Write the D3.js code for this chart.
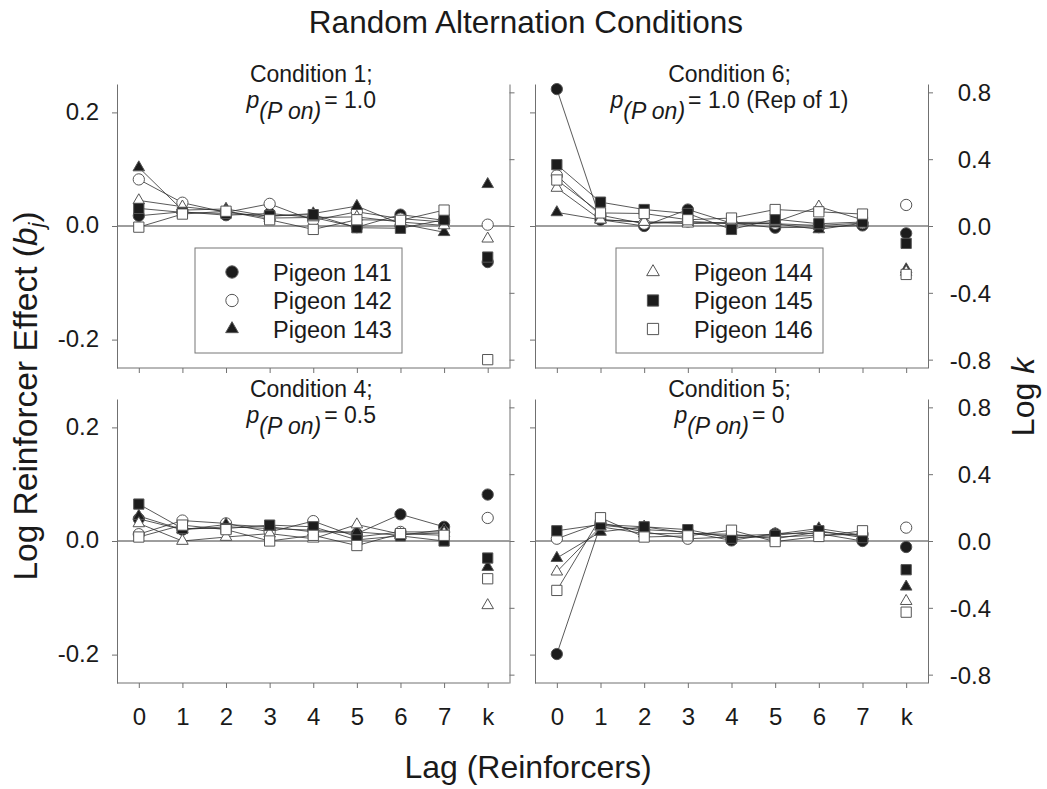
<!DOCTYPE html>
<html><head><meta charset="utf-8">
<script src="https://cdn.jsdelivr.net/npm/d3@7"></script>
<style>
body{margin:0;background:#fff;}
svg{display:block;}
text{font-family:"Liberation Sans", Arial, Helvetica, sans-serif;}
</style></head><body>
<svg id="chart" width="1047" height="789"></svg>
<script>
// ---------- data ----------
const lagLabels = ["0","1","2","3","4","5","6","7","k"];
const pigeons = ["Pigeon 141","Pigeon 142","Pigeon 143","Pigeon 144","Pigeon 145","Pigeon 146"];
const symbolShapes = ["circle","circle","triangle","triangle","square","square"];
const symbolFilled = [true,false,true,false,true,false];
const bjTicks = [-0.2, 0, 0.2];
const logkTicks = [-0.8, -0.4, 0, 0.4, 0.8];
const conditionNames = ["Condition 1;", "Condition 6;", "Condition 4;", "Condition 5;"];
const conditionP = ["= 1.0", "= 1.0 (Rep of 1)", "= 0.5", "= 0"];

// bj for lags 0..7, one row per pigeon (141..146)
const cond1Bj = [
  [0.018, 0.025, 0.019, 0.022, 0.015, -0.002, 0.020, 0.010],
  [0.082, 0.041, 0.024, 0.039, 0.010, 0.025, 0.013, 0.007],
  [0.103, 0.028, 0.030, 0.017, 0.022, 0.035, 0.004, -0.011],
  [0.045, 0.034, 0.026, 0.014, 0.015, 0.016, 0.007, 0.001],
  [0.031, 0.024, 0.022, 0.018, 0.020, -0.003, -0.004, 0.011],
  [-0.002, 0.021, 0.026, 0.011, -0.006, 0.011, 0.010, 0.028]
];
const cond1LogK = [-0.216, 0.008, 0.25, -0.076, -0.186, -0.80];

const cond6Bj = [
  [0.241, 0.011, 0.000, 0.029, 0.005, -0.003, -0.002, 0.001],
  [0.089, 0.019, 0.004, 0.008, 0.005, 0.004, 0.001, 0.005],
  [0.024, 0.011, 0.007, 0.007, 0.004, 0.004, -0.006, 0.005],
  [0.067, 0.011, 0.007, 0.004, 0.006, 0.007, 0.034, 0.011],
  [0.108, 0.042, 0.029, 0.022, -0.006, 0.012, 0.004, 0.007],
  [0.081, 0.023, 0.022, 0.011, 0.014, 0.029, 0.025, 0.021]
];
const cond6LogK = [-0.044, 0.126, -0.26, -0.275, -0.104, -0.29];

const cond4Bj = [
  [0.039, 0.020, 0.025, 0.022, 0.019, 0.013, 0.047, 0.025],
  [0.012, 0.036, 0.031, 0.016, 0.035, 0.007, 0.016, 0.016],
  [0.044, 0.020, 0.029, 0.025, 0.016, 0.016, 0.010, 0.020],
  [0.031, 0.000, 0.007, 0.013, 0.004, 0.029, 0.012, 0.014],
  [0.065, 0.022, 0.022, 0.028, 0.025, 0.002, 0.009, 0.000],
  [0.007, 0.028, 0.020, 0.000, 0.010, -0.008, 0.013, 0.010]
];
const cond4LogK = [0.278, 0.138, -0.156, -0.385, -0.102, -0.226];

const cond5Bj = [
  [-0.199, 0.028, 0.020, 0.016, 0.001, 0.013, 0.013, 0.000],
  [0.004, 0.032, 0.016, 0.004, 0.007, 0.007, 0.010, 0.012],
  [-0.030, 0.016, 0.025, 0.014, 0.009, 0.012, 0.022, 0.010],
  [-0.054, 0.025, 0.013, 0.013, 0.012, 0.004, 0.016, 0.009],
  [0.018, 0.029, 0.025, 0.020, 0.005, 0.010, 0.018, 0.006],
  [-0.087, 0.041, 0.007, 0.009, 0.019, -0.001, 0.008, 0.018]
];
const cond5LogK = [-0.036, 0.08, -0.274, -0.36, -0.172, -0.426];

// ---------- drawing ----------
const svg = d3.select("#chart");
const textColor = "#1a1a1a";
const axisColor = "#707070";
const colX = [[117, 509.5], [535, 928]];
const rowY = [[84, 368], [399, 683]];

const panels = [
  {bj: cond1Bj, k: cond1LogK, name: conditionNames[0], p: conditionP[0], col: 0, row: 0, legend: [0,1,2]},
  {bj: cond6Bj, k: cond6LogK, name: conditionNames[1], p: conditionP[1], col: 1, row: 0, legend: [3,4,5]},
  {bj: cond4Bj, k: cond4LogK, name: conditionNames[2], p: conditionP[2], col: 0, row: 1, legend: null},
  {bj: cond5Bj, k: cond5LogK, name: conditionNames[3], p: conditionP[3], col: 1, row: 1, legend: null}
];

const symType = {circle: d3.symbolCircle, triangle: d3.symbolTriangle, square: d3.symbolSquare};
const symSize = {circle: 100, triangle: 58, square: 105};
function drawSymbol(g, i, cx, cy, scale) {
  const s = scale || 1;
  g.append("path")
    .attr("d", d3.symbol().type(symType[symbolShapes[i]]).size(symSize[symbolShapes[i]] * s)())
    .attr("transform", `translate(${cx},${cy})`)
    .attr("fill", symbolFilled[i] ? "#1c1c1c" : "#ffffff")
    .attr("stroke", "#555")
    .attr("stroke-width", 1);
}

function styleAxis(sel) {
  sel.attr("font-size", null).attr("font-family", null).attr("color", axisColor);
  sel.selectAll("text").attr("fill", textColor).style("font-size", "24px");
  sel.selectAll("line, path").attr("stroke-width", 1);
}

panels.forEach(p => {
  const [x0, x1] = colX[p.col];
  const [y0, y1] = rowY[p.row];
  const x = d3.scaleLinear().domain([-0.5, 8.5]).range([x0, x1]);
  const y = d3.scaleLinear().domain([-0.25, 0.25]).range([y1, y0]);
  const yk = d3.scaleLinear().domain([-0.85, 0.85]).range([y1, y0]);
  const g = svg.append("g");

  // zero reference line
  g.append("line")
    .attr("x1", x0).attr("x2", x1).attr("y1", y(0)).attr("y2", y(0))
    .attr("stroke", "#3c3c3c").attr("stroke-width", 1);

  // left axis (bj)
  const la = g.append("g").attr("transform", `translate(${x0},0)`)
    .call(d3.axisLeft(y).tickValues(bjTicks).tickSize(5).tickSizeOuter(0).tickPadding(13)
      .tickFormat(p.col === 0 ? d => d.toFixed(1) : () => ""));
  styleAxis(la);
  la.selectAll("text").attr("dy", "0.28em");

  // right axis (log k)
  const ra = g.append("g").attr("transform", `translate(${x1},0)`)
    .call(d3.axisRight(yk).tickValues(logkTicks).tickSize(5).tickSizeOuter(0)
      .tickFormat(p.col === 1 ? d => d.toFixed(1) : () => ""));
  styleAxis(ra);
  ra.selectAll("text").attr("text-anchor", "end").attr("x", 63).attr("dy", "0.35em");

  // bottom axis (lag)
  const ba = g.append("g").attr("transform", `translate(0,${y1})`)
    .call(d3.axisBottom(x).tickValues(d3.range(lagLabels.length)).tickSize(5).tickSizeOuter(0)
      .tickFormat(p.row === 1 ? (d, i) => lagLabels[i] : () => ""));
  styleAxis(ba);
  ba.select(".domain").attr("d", `M${x0},0H${x1}`);
  ba.selectAll("text").attr("y", 42).attr("dy", null);

  // connecting lines for lags 0..7
  const line = d3.line().x((d, j) => x(j)).y(d => y(d));
  p.bj.forEach(series => {
    g.append("path").attr("d", line(series))
      .attr("fill", "none").attr("stroke", "#2e2e2e").attr("stroke-width", 0.8);
  });
  // symbols
  p.bj.forEach((series, i) => {
    series.forEach((v, j) => drawSymbol(g, i, x(j), y(v)));
    drawSymbol(g, i, x(8), yk(p.k[i]));
  });

  // panel title
  const cx = (x0 + x1) / 2 - 2;
  g.append("text").attr("x", cx).attr("y", y0 - 2).attr("text-anchor", "middle")
    .attr("fill", textColor).style("font-size", "23px").text(p.name);
  const t2 = g.append("text").attr("x", cx).attr("y", y0 + 24).attr("text-anchor", "middle")
    .attr("fill", textColor).style("font-size", "23px");
  t2.append("tspan").style("font-style", "italic").text("p");
  t2.append("tspan").style("font-style", "italic").attr("dy", 11).text("(P on)");
  t2.append("tspan").attr("dy", -11).attr("dx", 3).text(p.p);

  // legend
  if (p.legend) {
    const lx = x0 + (p.col === 0 ? 78 : 81);
    const ly = y0 + 164;
    g.append("rect").attr("x", lx).attr("y", ly).attr("width", 207).attr("height", 105)
      .attr("fill", "#fff").attr("stroke", "#777").attr("stroke-width", 1);
    p.legend.forEach((pi, r) => {
      const yy = ly + 24 + r * 28.5;
      drawSymbol(g, pi, lx + 37, yy, 1.2);
      g.append("text").attr("x", lx + 78).attr("y", yy + 8.5)
        .attr("fill", textColor).style("font-size", "23.5px").text(pigeons[pi]);
    });
  }
});

// overall title and axis titles
svg.append("text").attr("x", 526).attr("y", 33).attr("text-anchor", "middle")
  .attr("fill", textColor).style("font-size", "31.5px").text("Random Alternation Conditions");

svg.append("text").attr("x", 528).attr("y", 778).attr("text-anchor", "middle")
  .attr("fill", textColor).style("font-size", "32px").text("Lag (Reinforcers)");

const yl = svg.append("text").attr("transform", "translate(37,396) rotate(-90)")
  .attr("text-anchor", "middle").attr("fill", textColor).style("font-size", "33.5px");
yl.append("tspan").text("Log Reinforcer Effect (");
yl.append("tspan").style("font-style", "italic").text("b");
yl.append("tspan").style("font-style", "italic").style("font-size", "22px").attr("dy", 7).text("j");
yl.append("tspan").attr("dy", -7).text(")");

const kl = svg.append("text").attr("transform", "translate(1034,397) rotate(-90)")
  .attr("text-anchor", "middle").attr("fill", textColor).style("font-size", "32px");
kl.append("tspan").text("Log ");
kl.append("tspan").style("font-style", "italic").text("k");
</script>
</body></html>
